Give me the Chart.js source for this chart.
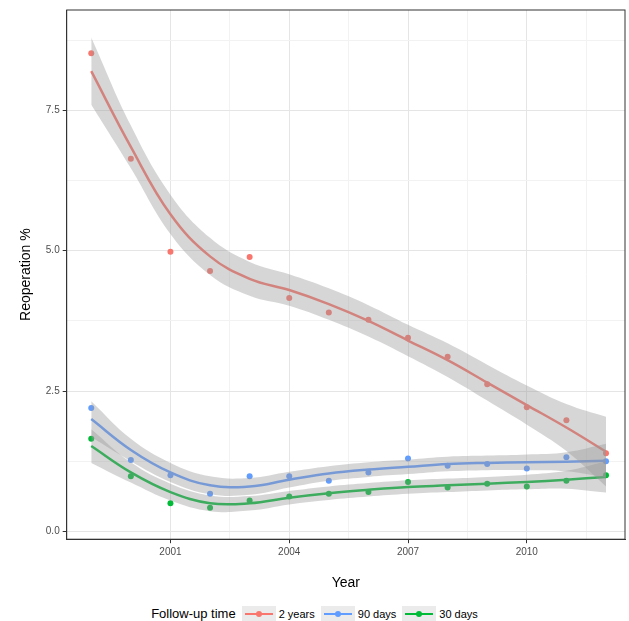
<!DOCTYPE html>
<html><head><meta charset="utf-8">
<script src="https://cdn.jsdelivr.net/npm/chart.js@4"></script>
<style>
body{margin:0;background:#fff;font-family:"Liberation Sans",Arial,sans-serif}
#wrap{position:relative;width:629px;height:596px}
#legend{position:absolute;top:606px;left:0;width:629px;text-align:center;font-size:13px;color:#000}
#legend span.k{display:inline-block;width:34px;height:17px;background:#ebebeb;vertical-align:middle;position:relative;margin-left:6px}
#legend span.k i{position:absolute;left:3px;right:3px;top:7px;height:2px}
#legend span.k b{position:absolute;left:14px;top:5px;width:6px;height:6px;border-radius:50%}
#legend .t{font-size:11px;margin-left:3px}
</style></head><body>
<div id="wrap"><canvas id="c"></canvas></div>
<div id="legend"></div>
<script>
// years and observed values
const years = [1999,2000,2001,2002,2003,2004,2005,2006,2007,2008,2009,2010,2011,2012];
const twoYears = [8.52,6.64,4.98,4.64,4.89,4.16,3.90,3.77,3.45,3.11,2.62,2.21,1.98,1.39];
const ninetyDays = [2.2,1.27,1.0,0.67,0.98,0.98,0.9,1.05,1.3,1.17,1.2,1.12,1.32,1.25];
const thirtyDays = [1.65,0.98,0.5,0.42,0.55,0.62,0.67,0.7,0.88,0.78,0.85,0.8,0.9,1.0];
// smoothed fits
const fitTwo = [8.2,6.85,5.65,4.9,4.5,4.3,4.05,3.75,3.4,3.05,2.65,2.25,1.85,1.42];
const fitNinety = [2.0,1.45,1.05,0.82,0.8,0.92,1.03,1.1,1.15,1.2,1.22,1.23,1.24,1.26];
const fitThirty = [1.52,1.05,0.7,0.5,0.5,0.6,0.68,0.74,0.79,0.82,0.85,0.88,0.92,0.97];
// confidence half-widths
const seTwo = [0.6,0.38,0.35,0.33,0.3,0.28,0.28,0.28,0.28,0.3,0.32,0.35,0.42,0.62];
const seNinety = [0.32,0.2,0.17,0.16,0.15,0.14,0.13,0.13,0.13,0.13,0.13,0.14,0.17,0.3];
const seThirty = [0.3,0.18,0.15,0.14,0.13,0.12,0.12,0.12,0.12,0.12,0.12,0.13,0.16,0.28];
const xTicks = [2001,2004,2007,2010];
const yTicks = [0,2.5,5,7.5];

const names = ['2 years','90 days','30 days'];
const colors = ['#f8766d','#619cff','#00ba38'];
const pts = [twoYears,ninetyDays,thirtyDays];
const fits = [fitTwo,fitNinety,fitThirty];
const ses = [seTwo,seNinety,seThirty];
const xy = arr => years.map((y,i)=>({x:y,y:arr[i]}));

const datasets = [];
fits.forEach((f,k)=>{
  datasets.push({data:xy(f.map((v,i)=>v+ses[k][i])),borderWidth:0,pointRadius:0,tension:0.4,fill:false});
  datasets.push({data:xy(f.map((v,i)=>v-ses[k][i])),borderWidth:0,pointRadius:0,tension:0.4,fill:'-1',backgroundColor:'rgba(153,153,153,0.4)'});
});
fits.forEach((f,k)=>datasets.push({data:xy(f),borderColor:colors[k],borderWidth:2.5,pointRadius:0,tension:0.4,fill:false}));
pts.forEach((p,k)=>datasets.push({type:'scatter',data:xy(p),backgroundColor:colors[k],borderWidth:0,pointRadius:3}));

const isMajor = (c,list)=>list.includes(c.tick&&c.tick.value);
new Chart(document.getElementById('c'),{
  type:'line',
  data:{datasets},
  options:{
    responsive:true,maintainAspectRatio:false,animation:false,
    layout:{padding:{top:10,right:4,left:14}},
    plugins:{legend:{display:false},tooltip:{enabled:false}},
    scales:{
      x:{type:'linear',min:1998.38,max:2012.48,
        afterBuildTicks:a=>{a.ticks=[2002.5,2005.5,2008.5,2011.5].concat(xTicks).sort((p,q)=>p-q).map(v=>({value:v}));},
        ticks:{color:'#4d4d4d',font:{size:10},maxRotation:0,callback:v=>xTicks.includes(v)?String(v):''},
        grid:{color:c=>isMajor(c,xTicks)?'#e5e5e5':'#f2f2f2',tickColor:c=>isMajor(c,xTicks)?'#333':'rgba(0,0,0,0)',tickLength:4},
        border:{color:'#333'},
        title:{display:true,text:'Year',font:{size:14},color:'#000',padding:{top:14}}},
      y:{min:-0.14,max:9.29,
        afterBuildTicks:a=>{a.ticks=[0,1.25,2.5,3.75,5,6.25,7.5,8.75].map(v=>({value:v}));},
        ticks:{color:'#4d4d4d',font:{size:10},callback:v=>yTicks.includes(v)?v.toFixed(1):''},
        grid:{color:c=>isMajor(c,yTicks)?'#e5e5e5':'#f2f2f2',tickColor:c=>isMajor(c,yTicks)?'#333':'rgba(0,0,0,0)',tickLength:4},
        border:{color:'#333'},
        title:{display:true,text:'Reoperation %',font:{size:14},color:'#000',padding:{bottom:8}}}
    }
  },
  plugins:[{id:'box',afterDraw(ch){const a=ch.chartArea,x=ch.ctx;x.save();x.strokeStyle='#333';x.lineWidth=1;x.strokeRect(a.left,a.top,a.right-a.left,a.bottom-a.top);x.restore();}}]
});

let h='Follow-up time';
names.forEach((n,k)=>{h+=`<span class="k"><i style="background:${colors[k]}"></i><b style="background:${colors[k]}"></b></span><span class="t">${n}</span>`;});
document.getElementById('legend').innerHTML=h;
</script>
</body></html>
